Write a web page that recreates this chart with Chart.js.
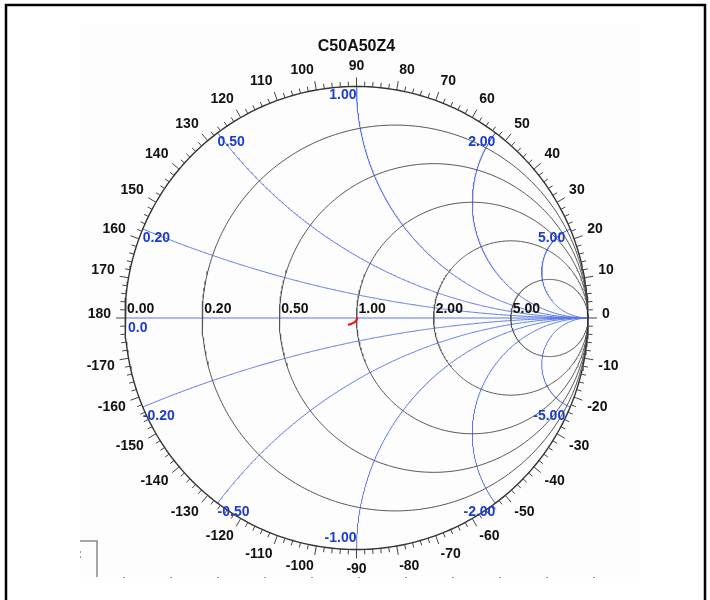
<!DOCTYPE html>
<html>
<head>
<meta charset="utf-8">
<script src="https://cdn.jsdelivr.net/npm/chart.js@4/dist/chart.umd.min.js"></script>
<style>
  body { margin: 0; background: #fff; }
  #wrap { position: relative; width: 710px; height: 600px; }
</style>
</head>
<body>
<div id="wrap"><canvas id="smith" width="710" height="600"></canvas></div>
<script>
// chart values
const chartTitle = 'C50A50Z4';
const resistances = [0.2, 0.5, 1, 2, 5];
const resistanceLabels = ['0.00', '0.20', '0.50', '1.00', '2.00', '5.00'];
const reactances = [0.2, 0.5, 1, 2, 5, -0.2, -0.5, -1, -2, -5];
const reactanceLabels = ['0.20', '0.50', '1.00', '2.00', '5.00', '-0.20', '-0.50', '-1.00', '-2.00', '-5.00'];
const angleLabels = [180, 170, 160, 150, 140, 130, 120, 110, 100, 90, 80, 70, 60, 50, 40, 30, 20, 10, 0,
  -10, -20, -30, -40, -50, -60, -70, -80, -90, -100, -110, -120, -130, -140, -150, -160, -170];
// measured trace, reflection coefficient (real / imaginary)
const traceRe = [0.0035, 0.0, -0.0086, -0.0216, -0.0367];
const traceIm = [0.003, -0.0086, -0.0186, -0.0246, -0.0302];

const gridGray = '#555555';
const gridBlue = '#5a78e6';
const labelBlue = '#1c3cd0';
const FONT = '"Liberation Sans", Arial, sans-serif';

function circlePoints(cx, cy, rad) {
  const pts = [];
  for (let i = 0; i <= 360; i++) {
    const a = i * Math.PI / 180;
    pts.push({ x: cx + rad * Math.cos(a), y: cy + rad * Math.sin(a) });
  }
  return pts;
}

function gamma(r, xv) {
  const d = (r + 1) * (r + 1) + xv * xv;
  return { x: (r * r - 1 + xv * xv) / d, y: 2 * xv / d };
}

function reactanceArc(xv) {
  const pts = [];
  for (let i = 0; i < 400; i++) {
    pts.push(gamma(Math.tan(i / 400 * Math.PI / 2), xv));
  }
  pts.push({ x: 1, y: 0 });
  return pts;
}

const datasets = [];
datasets.push({
  data: traceRe.map((v, i) => ({ x: v, y: traceIm[i] })),
  borderColor: '#ff1010', borderWidth: 2.2, tension: 0.4
});
datasets.push({ data: circlePoints(0, 0, 1), borderColor: '#333333', borderWidth: 1.4 });
resistances.forEach(r => {
  datasets.push({ data: circlePoints(r / (1 + r), 0, 1 / (1 + r)), borderColor: gridGray, borderWidth: 1 });
});
reactances.forEach(xv => {
  datasets.push({ data: reactanceArc(xv), borderColor: gridBlue, borderWidth: 1 });
});
datasets.push({ data: [{ x: -1, y: 0 }, { x: 1, y: 0 }], borderColor: gridBlue, borderWidth: 1.2 });
datasets.forEach(ds => { ds.showLine = true; ds.pointRadius = 0; ds.fill = false; });

const decorations = {
  id: 'decorations',
  beforeDraw(chart) {
    const ctx = chart.ctx;
    ctx.save();
    ctx.fillStyle = '#ffffff';
    ctx.fillRect(0, 0, chart.width, chart.height);
    ctx.fillStyle = '#fdfdfd';
    ctx.fillRect(80, 24, 560, 553);
    ctx.restore();
  },
  afterDraw(chart) {
    const ctx = chart.ctx;
    const xs = chart.scales.x, ys = chart.scales.y;
    const cx = xs.getPixelForValue(0), cy = ys.getPixelForValue(0);
    const R = xs.getPixelForValue(1) - cx;
    ctx.save();

    // outer angle ticks
    ctx.strokeStyle = '#444';
    ctx.lineWidth = 1;
    for (let a = -180; a < 180; a += 2) {
      const t = a * Math.PI / 180;
      const len = a % 10 === 0 ? 9 : 5;
      ctx.beginPath();
      ctx.moveTo(cx + R * Math.cos(t), cy - R * Math.sin(t));
      ctx.lineTo(cx + (R + len) * Math.cos(t), cy - (R + len) * Math.sin(t));
      ctx.stroke();
    }

    // angle labels, anchored at the end of the long tick
    ctx.fillStyle = '#111';
    ctx.font = 'bold 14px ' + FONT;
    ctx.textAlign = 'left';
    ctx.textBaseline = 'middle';
    const capH = 10;
    angleLabels.forEach(a => {
      const t = a * Math.PI / 180;
      const c = Math.cos(t), s = Math.sin(t);
      const tx = cx + (R + 9) * c, ty = cy - (R + 9) * s;
      const txt = String(a);
      const w = ctx.measureText(txt).width;
      let left;
      if (c < -0.01) left = tx + 5 * c - w;
      else if (c > 0.01) left = tx + 5 * c;
      else left = tx - w / 2;
      let mid;
      if (s > 0.01) mid = ty - 6 * s - capH / 2;
      else if (s < -0.01) mid = ty - 6 * s + capH / 2;
      else mid = ty - 3.5;
      ctx.fillText(txt, left, mid);
    });

    // resistance labels (on the real axis, above)
    ctx.textAlign = 'left';
    ctx.textBaseline = 'bottom';
    [0].concat(resistances).forEach((r, i) => {
      const px = xs.getPixelForValue((r - 1) / (r + 1));
      ctx.fillText(resistanceLabels[i], px + 2, cy - 2);
    });

    // reactance labels
    ctx.fillStyle = labelBlue;
    ctx.textBaseline = 'top';
    ctx.fillText('0.0', xs.getPixelForValue(-1) + 3, cy + 3);
    reactances.forEach((xv, i) => {
      const g = gamma(0, xv);
      const px = xs.getPixelForValue(g.x), py = ys.getPixelForValue(g.y);
      ctx.textAlign = Math.abs(xv) < 1 ? 'left' : 'right';
      const shift = Math.abs(xv) >= 5 ? -5 : 0;
      if (xv === -1) {
        ctx.textBaseline = 'bottom';
        ctx.fillText(reactanceLabels[i], px, py - 4);
      } else {
        ctx.textBaseline = 'top';
        ctx.fillText(reactanceLabels[i], px + shift, py + 2);
      }
    });

    // title
    ctx.fillStyle = '#111';
    ctx.font = 'bold 16px ' + FONT;
    ctx.textAlign = 'center';
    ctx.textBaseline = 'middle';
    ctx.fillText(chartTitle, cx, 47);

    // bottom remnants of the page
    ctx.strokeStyle = '#888';
    ctx.lineWidth = 1.5;
    ctx.beginPath();
    ctx.moveTo(80, 541); ctx.lineTo(97, 541); ctx.lineTo(97, 577);
    ctx.stroke();
    ctx.fillStyle = '#999';
    ctx.fillRect(80, 551, 1, 2);
    ctx.fillRect(80, 556, 1, 2);
    for (let i = 0; i < 11; i++) {
      ctx.fillRect(123 + i * 47, 577, 2, 1);
    }

    // frame
    ctx.strokeStyle = '#000';
    ctx.lineWidth = 2.5;
    ctx.beginPath();
    ctx.moveTo(6, 600); ctx.lineTo(6, 5); ctx.lineTo(705, 5); ctx.lineTo(705, 600);
    ctx.stroke();
    ctx.restore();
  }
};

const PX = 231.5, CX = 356.5, CY = 318;
new Chart(document.getElementById('smith'), {
  type: 'scatter',
  data: { datasets },
  options: {
    responsive: false,
    animation: false,
    layout: { padding: 0 },
    plugins: { legend: { display: false }, tooltip: { enabled: false } },
    scales: {
      x: { type: 'linear', display: false, min: -CX / PX, max: (710 - CX) / PX },
      y: { type: 'linear', display: false, min: -(600 - CY) / PX, max: CY / PX }
    }
  },
  plugins: [decorations]
});
</script>
</body>
</html>
